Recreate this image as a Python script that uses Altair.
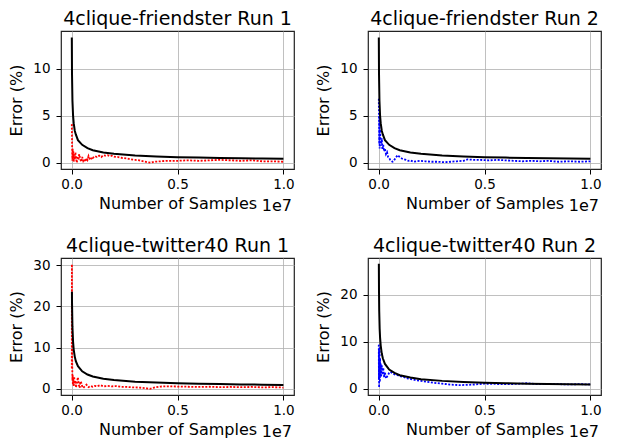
import altair as alt
import pandas as pd

# ---------------- data (x in units of 1e7 samples, error in %) ----------------
titles = ["4clique-friendster Run 1", "4clique-friendster Run 2",
          "4clique-twitter40 Run 1", "4clique-twitter40 Run 2"]

# black bound curves
bound_f_x = [0.001, 0.002, 0.004, 0.007, 0.01, 0.015, 0.02, 0.03, 0.05, 0.075, 0.1,
             0.15, 0.2, 0.3, 0.4, 0.5, 0.6, 0.7, 0.8, 0.9, 1.0]
bound_f_y = [13.3, 9.4, 6.6, 5.0, 4.2, 3.4, 3.0, 2.4, 1.9, 1.55, 1.33,
             1.08, 0.94, 0.77, 0.66, 0.59, 0.54, 0.50, 0.47, 0.44, 0.42]

bound_t1_x = [0.0016, 0.002, 0.004, 0.007, 0.01, 0.015, 0.02, 0.03, 0.05, 0.075, 0.1,
              0.15, 0.2, 0.3, 0.4, 0.5, 0.6, 0.7, 0.8, 0.9, 1.0]
bound_t1_y = [23.5, 21.0, 15.0, 11.4, 9.5, 7.8, 6.7, 5.5, 4.25, 3.47, 3.0,
              2.45, 2.12, 1.73, 1.50, 1.34, 1.23, 1.14, 1.06, 1.0, 0.95]

bound_t2_x = [0.0012, 0.002, 0.003, 0.005, 0.007, 0.01, 0.015, 0.02, 0.03, 0.05, 0.075,
              0.1, 0.15, 0.2, 0.3, 0.4, 0.5, 0.6, 0.7, 0.8, 0.9, 1.0]
bound_t2_y = [26.6, 20.5, 16.5, 12.8, 10.9, 9.2, 7.5, 6.5, 5.3, 4.1, 3.4,
              2.9, 2.4, 2.05, 1.7, 1.47, 1.32, 1.2, 1.11, 1.04, 0.98, 0.93]

# observed errors
f1_x = [0.001, 0.002, 0.003, 0.004, 0.005, 0.006, 0.008, 0.010, 0.012, 0.015, 0.018,
        0.021, 0.025, 0.028, 0.032, 0.036, 0.040, 0.045, 0.050, 0.055, 0.060, 0.065,
        0.070, 0.075, 0.080, 0.085, 0.090, 0.095, 0.100, 0.110, 0.120, 0.130, 0.140,
        0.150, 0.160, 0.170, 0.180, 0.190, 0.200, 0.220, 0.240, 0.260, 0.280, 0.300,
        0.320, 0.340, 0.360, 0.375, 0.390, 0.420, 0.450, 0.500, 0.550, 0.600, 0.650,
        0.700, 0.750, 0.800, 0.850, 0.900, 0.950, 1.000]
f1_y = [4.1, 2.5, 1.0, 0.2, 1.5, 0.6, 1.2, 0.1, 0.9, 0.3, 1.1,
        0.4, 0.0, 0.7, 0.3, 0.9, 0.5, 0.1, 0.6, 0.2, 0.4, 0.1,
        0.5, 0.3, 0.7, 0.4, 0.3, 0.6, 0.5, 0.7, 0.6, 0.75, 0.6,
        0.8, 0.75, 0.8, 0.7, 0.75, 0.65, 0.6, 0.5, 0.45, 0.35, 0.3,
        0.25, 0.15, 0.05, 0.0, 0.1, 0.15, 0.2, 0.2, 0.25, 0.2, 0.25,
        0.3, 0.25, 0.2, 0.25, 0.15, 0.15, 0.1]

f2_x = [0.001, 0.002, 0.003, 0.004, 0.005, 0.007, 0.009, 0.012, 0.015, 0.018, 0.022,
        0.026, 0.030, 0.035, 0.040, 0.045, 0.050, 0.055, 0.060, 0.065, 0.070, 0.080,
        0.090, 0.100, 0.110, 0.120, 0.130, 0.140, 0.150, 0.165, 0.180, 0.200, 0.220,
        0.250, 0.280, 0.310, 0.340, 0.370, 0.400, 0.420, 0.450, 0.480, 0.520, 0.560,
        0.600, 0.640, 0.680, 0.720, 0.760, 0.800, 0.850, 0.900, 0.950, 1.000]
f2_y = [6.8, 4.5, 2.0, 5.0, 1.5, 3.5, 2.5, 1.8, 2.6, 1.4, 1.9,
        1.2, 1.5, 0.9, 1.1, 0.6, 0.5, 0.3, 0.2, 0.1, 0.15, 0.5,
        0.8, 0.6, 0.45, 0.35, 0.3, 0.2, 0.25, 0.1, 0.15, 0.2, 0.15,
        0.1, 0.1, 0.05, 0.1, 0.15, 0.2, 0.35, 0.3, 0.3, 0.25, 0.3,
        0.25, 0.2, 0.15, 0.2, 0.15, 0.2, 0.1, 0.15, 0.1, 0.15]

t1_x = [0.001, 0.0015, 0.002, 0.003, 0.004, 0.005, 0.006, 0.008, 0.010, 0.012, 0.015,
        0.018, 0.021, 0.025, 0.030, 0.034, 0.038, 0.042, 0.046, 0.050, 0.055, 0.060,
        0.070, 0.080, 0.090, 0.100, 0.110, 0.120, 0.135, 0.150, 0.170, 0.190, 0.210,
        0.230, 0.260, 0.290, 0.320, 0.350, 0.370, 0.390, 0.420, 0.450, 0.500, 0.550,
        0.600, 0.650, 0.700, 0.750, 0.800, 0.850, 0.900, 0.950, 1.000]
t1_y = [5.0, 30.2, 12.0, 6.0, 2.0, 3.5, 1.0, 2.5, 0.5, 3.0, 1.2,
        2.0, 0.3, 1.5, 2.8, 1.0, 0.2, 1.8, 1.4, 0.6, 0.2, 0.5,
        1.0, 0.4, 0.7, 0.5, 0.7, 0.6, 0.9, 0.6, 0.7, 0.6, 0.65,
        0.5, 0.45, 0.35, 0.3, 0.15, 0.0, 0.3, 0.55, 0.6, 0.55, 0.5,
        0.45, 0.5, 0.4, 0.45, 0.4, 0.45, 0.35, 0.4, 0.3]

t2_x = [0.001, 0.0015, 0.002, 0.0025, 0.003, 0.004, 0.005, 0.006, 0.007, 0.008, 0.010,
        0.012, 0.015, 0.018, 0.022, 0.026, 0.030, 0.035, 0.040, 0.045, 0.050, 0.055,
        0.060, 0.070, 0.080, 0.090, 0.100, 0.120, 0.140, 0.160, 0.180, 0.200, 0.230,
        0.260, 0.300, 0.340, 0.380, 0.420, 0.460, 0.500, 0.550, 0.600, 0.650, 0.700,
        0.750, 0.800, 0.850, 0.900, 0.950, 1.000]
t2_y = [9.4, 2.0, 8.5, 0.3, 6.0, 4.0, 9.0, 1.5, 6.5, 3.0, 5.5,
        2.5, 5.0, 3.0, 4.5, 2.5, 3.5, 2.2, 2.6, 3.0, 3.4, 3.6,
        3.5, 3.2, 3.0, 2.9, 2.75, 2.5, 2.2, 2.0, 1.8, 1.7, 1.5,
        1.3, 1.1, 0.9, 0.8, 0.85, 0.95, 1.1, 1.05, 1.0, 1.05, 1.2,
        1.0, 1.05, 1.0, 0.95, 1.0, 0.95]

y_domains = [[-0.67, 14.0], [-0.67, 14.0], [-1.5, 31.7], [-1.3, 27.8]]
y_ticks = [[0, 5, 10], [0, 5, 10], [0, 10, 20, 30], [0, 10, 20]]
x_ticks = [0.0, 0.5, 1.0]
colors = ["#ff0000", "#0000ff", "#ff0000", "#0000ff"]

W = 233
FONT = "DejaVu Sans"


def panel(title, bx, by, ox, oy, color, ydom, yt, H):
    bound = pd.DataFrame({"x": bx, "y": by})
    obs = pd.DataFrame({"x": ox, "y": oy})
    xenc = alt.X("x:Q", scale=alt.Scale(domain=[-0.05, 1.05], nice=False, zero=False),
                 axis=alt.Axis(values=x_ticks, format=".1f", title="Number of Samples"))
    yenc = alt.Y("y:Q", scale=alt.Scale(domain=ydom, nice=False, zero=False),
                 axis=alt.Axis(values=yt, format="d", title="Error (%)"))
    obs_line = alt.Chart(obs).mark_line(color=color, strokeWidth=1.8,
                                        strokeDash=[2, 1.5]).encode(x=xenc, y=yenc)
    bound_line = alt.Chart(bound).mark_line(color="black", strokeWidth=2).encode(x=xenc, y=yenc)
    off = alt.Chart(pd.DataFrame({"t": ["1e7"]})).mark_text(
        align="right", baseline="alphabetic", fontSize=16, font=FONT, color="black"
    ).encode(x=alt.value(W - 2), y=alt.value(H + 42), text="t:N")
    return alt.layer(obs_line, bound_line, off).properties(
        width=W, height=H, title=alt.TitleParams(title))


panels = [
    panel(titles[0], bound_f_x, bound_f_y, f1_x, f1_y, colors[0], y_domains[0], y_ticks[0], 138),
    panel(titles[1], bound_f_x, bound_f_y, f2_x, f2_y, colors[1], y_domains[1], y_ticks[1], 138),
    panel(titles[2], bound_t1_x, bound_t1_y, t1_x, t1_y, colors[2], y_domains[2], y_ticks[2], 137),
    panel(titles[3], bound_t2_x, bound_t2_y, t2_x, t2_y, colors[3], y_domains[3], y_ticks[3], 137),
]

chart = alt.vconcat(
    alt.hconcat(panels[0], panels[1], spacing=20),
    alt.hconcat(panels[2], panels[3], spacing=20),
    spacing=21,
).properties(
    padding={"left": 0, "top": 1, "right": 0, "bottom": 0},
    background="white",
).configure_view(
    stroke="#222222", strokeWidth=1.2
).configure_axis(
    labelFont=FONT, titleFont=FONT, labelFontSize=13.5, titleFontSize=16,
    titleFontWeight="normal", labelColor="black", titleColor="black",
    tickColor="black", tickSize=5, domain=False, gridColor="#b0b0b0",
    gridWidth=0.8
).configure_axisX(
    labelPadding=3, titlePadding=5
).configure_axisY(
    labelPadding=6, titlePadding=8
).configure_title(
    font=FONT, fontSize=19, fontWeight="normal", color="black", anchor="middle", offset=2
)

chart.save("out.html", embed_options={"renderer": "svg", "actions": False})
